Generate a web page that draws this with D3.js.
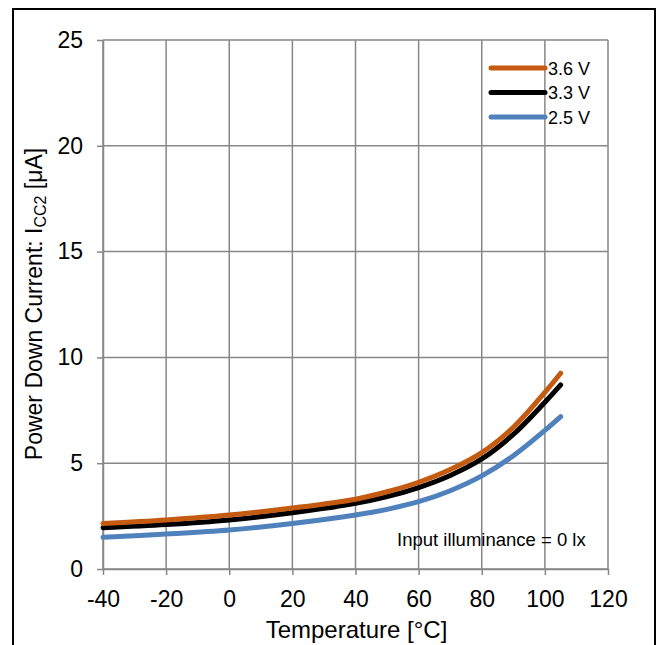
<!DOCTYPE html>
<html>
<head>
<meta charset="utf-8">
<script src="https://cdn.jsdelivr.net/npm/d3@7"></script>
<style>
  html, body { margin: 0; padding: 0; background: #fff; }
  svg text { font-family: "Liberation Sans", Arial, sans-serif; fill: #000; }
</style>
</head>
<body>
<svg id="chart" width="660" height="645"></svg>
<script>
const temps = [-40, -20, 0, 20, 40, 50, 60, 70, 80, 90, 100, 105];
const v36 = [2.15, 2.32, 2.55, 2.88, 3.30, 3.65, 4.10, 4.70, 5.50, 6.70, 8.35, 9.25];
const v33 = [1.95, 2.10, 2.32, 2.66, 3.10, 3.42, 3.85, 4.42, 5.20, 6.36, 7.88, 8.70];
const v25 = [1.50, 1.65, 1.84, 2.15, 2.55, 2.82, 3.18, 3.70, 4.40, 5.35, 6.55, 7.20];
const seriesNames = ["3.6 V", "3.3 V", "2.5 V"];
const seriesColors = ["#C55A11", "#000000", "#4F81BD"];
const xTicks = [-40, -20, 0, 20, 40, 60, 80, 100, 120];
const yTicks = [0, 5, 10, 15, 20, 25];
const xTitle = "Temperature [°C]";
const annotation = "Input illuminance = 0 lx";

(function () {
const svg = d3.select("#chart");
const pLeft = 103, pRight = 608, pTop = 40, pBottom = 569;
const FONT = '"Liberation Sans", Arial, sans-serif';

svg.append("path")
  .attr("d", "M13,646 L13,9 L655,9 L655,646")
  .attr("fill", "none").attr("stroke", "#000").attr("stroke-width", 2);

const x = d3.scaleLinear().domain([-40, 120]).range([pLeft, pRight]);
const y = d3.scaleLinear().domain([0, 25]).range([pBottom, pTop]);

const gridColor = "#878787";
svg.append("g").selectAll("line").data(xTicks).join("line")
  .attr("x1", d => x(d)).attr("x2", d => x(d))
  .attr("y1", pTop).attr("y2", pBottom)
  .attr("stroke", gridColor).attr("stroke-width", 1.5);
svg.append("g").selectAll("line").data(yTicks).join("line")
  .attr("x1", pLeft).attr("x2", pRight)
  .attr("y1", d => y(d)).attr("y2", d => y(d))
  .attr("stroke", gridColor).attr("stroke-width", 1.5);

const xAxis = svg.append("g").attr("transform", `translate(0,${pBottom})`)
  .call(d3.axisBottom(x).tickValues(xTicks).tickFormat(d => String(d))
    .tickSize(6).tickPadding(16).tickSizeOuter(0));
const yAxis = svg.append("g").attr("transform", `translate(${pLeft},0)`)
  .call(d3.axisLeft(y).tickValues(yTicks).tickFormat(d => String(d))
    .tickSize(6).tickPadding(14).tickSizeOuter(0));
[xAxis, yAxis].forEach(a => {
  a.select(".domain").attr("stroke", gridColor).attr("stroke-width", 1.5);
  a.selectAll(".tick line").attr("stroke", gridColor).attr("stroke-width", 1.5);
  a.selectAll(".tick text").style("font-size", "23px")
    .style("font-family", FONT).attr("fill", "#000");
});

const line = d3.line().x(d => x(d[0])).y(d => y(d[1])).curve(d3.curveCatmullRom.alpha(0.5));
const allSeries = [v36, v33, v25];
[2, 1, 0].forEach(i => {
  svg.append("path")
    .datum(temps.map((t, j) => [t, allSeries[i][j]]))
    .attr("d", line)
    .attr("fill", "none")
    .attr("stroke", seriesColors[i])
    .attr("stroke-width", 5)
    .attr("stroke-linecap", "round")
    .attr("stroke-linejoin", "round");
});

const lg = svg.append("g");
seriesNames.forEach((name, i) => {
  const ly = 68 + i * 24.5;
  lg.append("line").attr("x1", 491).attr("x2", 545).attr("y1", ly).attr("y2", ly)
    .attr("stroke", seriesColors[i]).attr("stroke-width", 5).attr("stroke-linecap", "round");
  lg.append("text").attr("x", 548).attr("y", ly + 6.5).style("font-size", "18px").text(name);
});

svg.append("text").attr("x", 397).attr("y", 546).style("font-size", "18.5px").text(annotation);

svg.append("text").attr("x", (pLeft + pRight) / 2 + 1).attr("y", 638)
  .attr("text-anchor", "middle").style("font-size", "24px").text(xTitle);

const yt = svg.append("text")
  .attr("transform", "translate(42,304) rotate(-90)")
  .attr("text-anchor", "middle").style("font-size", "23px");
yt.append("tspan").text("Power Down Current: I");
yt.append("tspan").attr("dy", 4).style("font-size", "16px").text("CC2");
yt.append("tspan").attr("dy", -4).text(" [μA]");
})();
</script>
</body>
</html>
